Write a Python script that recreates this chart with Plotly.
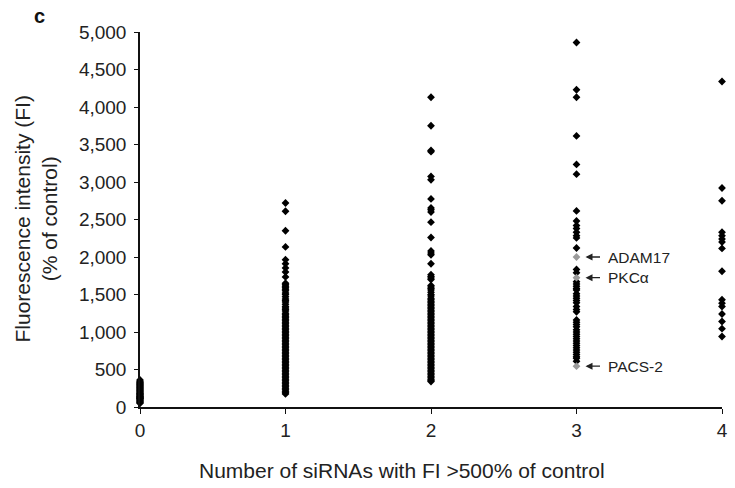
import plotly.graph_objects as go

# ---- data ----
x_categories = [0, 1, 2, 3, 4]

fi_0 = [50, 60, 70, 80, 90, 100, 110, 115, 120, 125, 130, 140, 145, 150, 160, 170, 175,
        180, 190, 200, 210, 220, 230, 240, 250, 260, 270, 280, 290, 300, 310, 320, 330,
        345, 360]

fi_1 = [2720, 2610, 2350, 2135, 1965, 1910, 1855, 1800, 1735,
        1650, 1630, 1610, 1590, 1570, 1550, 1520, 1500, 1470, 1440, 1420, 1400, 1370,
        1340, 1320, 1300, 1280, 1250, 1230, 1210, 1190, 1170, 1150, 1130, 1110, 1090,
        1070, 1050, 1030, 1010, 990, 970, 950, 930, 910, 890, 870, 850, 830, 810, 790,
        770, 750, 730, 710, 690, 670, 650, 630, 610, 590, 570, 550, 530, 510, 490, 470,
        450, 430, 410, 390, 370, 350, 330, 310, 290, 270, 250, 230, 210, 190, 175]

fi_2 = [4130, 3750, 3420, 3405, 3075, 3030, 2775, 2655, 2630, 2600, 2465, 2260, 2080,
        2055, 2030, 1910, 1765, 1740, 1720, 1700,
        1620, 1600, 1580, 1560, 1530, 1500, 1480, 1450, 1430, 1410, 1390, 1370, 1350,
        1330, 1310, 1290, 1270, 1250, 1230, 1210, 1190, 1170, 1150, 1130, 1110, 1090,
        1070, 1050, 1030, 1010, 990, 970, 950, 930, 910, 890, 870, 850, 830, 810, 790,
        770, 750, 730, 710, 690, 670, 650, 630, 610, 590, 570, 550, 530, 510, 490, 470,
        450, 430, 410, 390, 370, 355, 340]

fi_3 = [4860, 4230, 4130, 3615, 3235, 3105, 2615, 2480, 2420, 2380, 2330, 2285, 2255,
        2120, 1835, 1790, 1670, 1640, 1610, 1580, 1560, 1510, 1480, 1450, 1420, 1390,
        1340, 1300, 1270, 1160, 1130, 1100, 1070, 1030, 1000, 970, 940, 910, 880, 850,
        820, 790, 760, 730, 700, 670, 650, 610]

fi_4 = [4340, 2920, 2750, 2330, 2285, 2240, 2200, 2115, 1810, 1430, 1385, 1340, 1240,
        1140, 1045, 940]

highlight_names = ["ADAM17", "PKCα", "PACS-2"]
highlight_values = [2000, 1725, 545]
highlight_x = 3

y_ticks = [0, 500, 1000, 1500, 2000, 2500, 3000, 3500, 4000, 4500, 5000]

FONT = "Liberation Sans, Arial, sans-serif"
TXT = "#222222"

columns = [fi_0, fi_1, fi_2, fi_3, fi_4]
xs, ys = [], []
for cat, vals in zip(x_categories, columns):
    xs += [cat] * len(vals)
    ys += vals

fig = go.Figure()
fig.add_trace(go.Scatter(
    x=xs, y=ys, mode="markers",
    marker=dict(symbol="diamond", size=6, color="#000000", line=dict(width=0)),
    cliponaxis=False, showlegend=False, hoverinfo="skip"))
fig.add_trace(go.Scatter(
    x=[highlight_x] * len(highlight_values), y=highlight_values, mode="markers",
    marker=dict(symbol="diamond", size=6, color="#9a9a9a", line=dict(width=0)),
    cliponaxis=False, showlegend=False, hoverinfo="skip"))

annotations = []
for name, val in zip(highlight_names, highlight_values):
    annotations.append(dict(
        x=highlight_x, y=val, xref="x", yref="y", text="", showarrow=True,
        ax=25, ay=0, axref="pixel", ayref="pixel", standoff=9,
        arrowhead=2, arrowsize=1, arrowwidth=1.4, arrowcolor="#222222"))
    annotations.append(dict(
        x=highlight_x, y=val, xref="x", yref="y", text=name, showarrow=False,
        xanchor="left", yanchor="middle", xshift=29,
        font=dict(family=FONT, size=15.5, color=TXT)))

annotations.append(dict(
    x=0, y=0.5, xref="paper", yref="paper", xanchor="center", yanchor="middle",
    xshift=-105, text="Fluorescence intensity (FI)<br>(% of control)", textangle=-90,
    showarrow=False, font=dict(family=FONT, size=21, color=TXT)))
annotations.append(dict(
    x=0.45, y=0, xref="paper", yref="paper", xanchor="center", yanchor="middle",
    yshift=-63, text="Number of siRNAs with FI >500% of control", showarrow=False,
    font=dict(family=FONT, size=21, color=TXT)))
annotations.append(dict(
    x=0, y=1, xref="paper", yref="paper", xanchor="center", yanchor="middle",
    xshift=-101, yshift=16, text="<b>c</b>", showarrow=False,
    font=dict(family=FONT, size=20, color="#111111")))

fig.update_layout(
    width=735, height=488,
    margin=dict(l=140, r=13, t=32, b=81, autoexpand=False),
    paper_bgcolor="white", plot_bgcolor="white",
    font=dict(family=FONT, size=19, color=TXT),
    annotations=annotations,
    xaxis=dict(range=[0, 4], tickvals=x_categories, showgrid=False, zeroline=False,
               automargin=False,
               showline=True, linecolor="#111111", linewidth=1.5,
               ticks="outside", ticklen=5, tickwidth=1, tickcolor="#111111",
               ticklabelstandoff=0, tickfont=dict(family=FONT, size=19, color=TXT)),
    yaxis=dict(range=[0, 5000], tickvals=y_ticks, tickformat=",d", showgrid=False,
               automargin=False,
               zeroline=False, showline=True, linecolor="#111111", linewidth=1.5,
               ticks="outside", ticklen=4, tickwidth=1, tickcolor="#111111",
               ticklabelstandoff=4, tickfont=dict(family=FONT, size=19, color=TXT)),
)

fig.write_html("out.html",
               config={"displayModeBar": False},
               post_script="document.body.style.margin='0';"
                           "document.body.style.overflow='hidden';")
